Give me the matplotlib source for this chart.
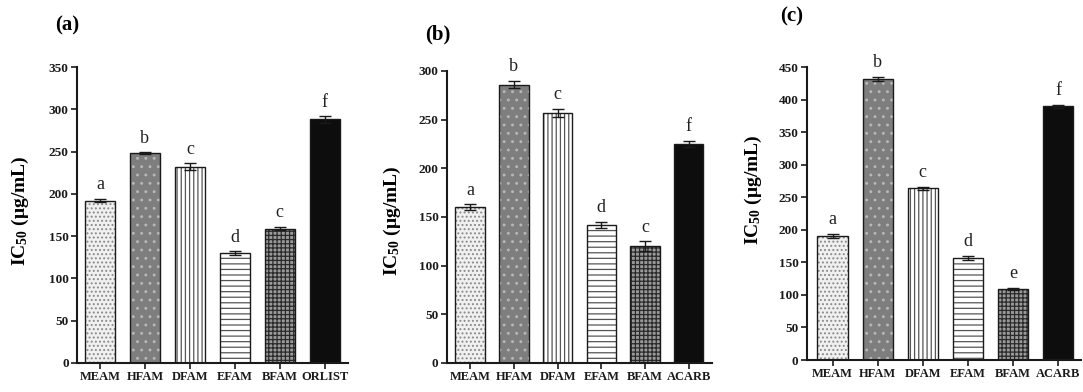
import numpy as np
import matplotlib
matplotlib.use("Agg")
import matplotlib.pyplot as plt

# ---- data ----
extracts = ["MEAM", "HFAM", "DFAM", "EFAM", "BFAM"]
labels_a = extracts + ["ORLIST"]
labels_b = extracts + ["ACARB"]
labels_c = extracts + ["ACARB"]

ic50_a = [192, 248, 232, 130, 159, 288]
err_a = [2, 1, 4, 2, 2, 4]
ic50_b = [160, 286, 257, 142, 120, 225]
err_b = [3, 4, 4, 3, 5, 3]
ic50_c = [191, 432, 264, 157, 109, 390]
err_c = [3, 3, 2, 3, 2, 2]

letters_a = ["a", "b", "c", "d", "c", "f"]
letters_b = ["a", "b", "c", "d", "c", "f"]
letters_c = ["a", "b", "c", "d", "e", "f"]

# face colour, hatch, hatch colour for each bar
styles = [
    ("#f0f0f0", "....", "#8a8a8a"),
    ("#7e7e7e", "..", "#b8b8b8"),
    ("#ffffff", "||||", "#555555"),
    ("#ffffff", "---", "#555555"),
    ("#9a9a9a", "++++", "#2a2a2a"),
    ("#0d0d0d", "", "#0d0d0d"),
]

plt.rcParams['font.family'] = ['Liberation Serif', 'DejaVu Serif']
plt.rcParams['hatch.linewidth'] = 0.9
plt.rcParams['mathtext.fontset'] = 'custom'
plt.rcParams['mathtext.rm'] = 'Liberation Serif:bold'
plt.rcParams['mathtext.bf'] = 'Liberation Serif:bold'

fig = plt.figure(figsize=(10.83, 3.92), dpi=100, facecolor='white')


def draw_panel(rect, labels, values, errs, letters, ymax, ystep, xlim):
    ax = fig.add_axes(rect)
    x = np.arange(len(labels))
    for i, (xi, v) in enumerate(zip(x, values)):
        face, hatch, hcol = styles[i]
        ax.bar(xi, v, width=0.67, color=face, edgecolor=hcol, hatch=hatch, linewidth=0, zorder=2)
        ax.bar(xi, v, width=0.67, fill=False, edgecolor='#1a1a1a', linewidth=1.0, zorder=3)
    ax.errorbar(x, values, yerr=errs, fmt='none', ecolor='#1a1a1a', elinewidth=1.0,
                capsize=4, capthick=1.0, zorder=4)
    for xi, v, e, lt in zip(x, values, errs, letters):
        ax.annotate(lt, xy=(xi, v + e), xytext=(0, 4), textcoords='offset points',
                    ha='center', va='bottom', fontsize=13, color='#222222')
    ax.set_ylim(0, ymax)
    ax.set_xlim(*xlim)
    ax.set_yticks(np.arange(0, ymax + 1, ystep))
    ax.set_xticks(x)
    ax.set_xticklabels(labels, fontsize=9, fontweight='bold')
    for t in ax.get_yticklabels():
        t.set_fontweight('bold')
        t.set_fontsize(9.5)
    ax.tick_params(axis='both', direction='out', length=4, width=1.2, pad=2, colors='#1a1a1a')
    for s in ['top', 'right']:
        ax.spines[s].set_visible(False)
    for s in ['left', 'bottom']:
        ax.spines[s].set_linewidth(1.5)
        ax.spines[s].set_color('#1a1a1a')
    ax.patch.set_alpha(0)
    return ax


ax1 = draw_panel([0.0711, 0.074, 0.25, 0.755], labels_a, ic50_a, err_a, letters_a, 350, 50, (-0.51, 5.51))
ax2 = draw_panel([0.4127, 0.074, 0.2447, 0.745], labels_b, ic50_b, err_b, letters_b, 300, 50, (-0.53, 5.53))
ax3 = draw_panel([0.745, 0.0816, 0.253, 0.747], labels_c, ic50_c, err_c, letters_c, 450, 50, (-0.57, 5.5))

# panel letters
fig.text(0.062, 0.934, "(a)", fontsize=15, fontweight='bold', ha='center', va='center')
fig.text(0.404, 0.913, "(b)", fontsize=15, fontweight='bold', ha='center', va='center')
fig.text(0.731, 0.957, "(c)", fontsize=15, fontweight='bold', ha='center', va='center')

# y labels
ylab = r"$\mathbf{IC_{50}}$ (μg/mL)"
fig.text(20 / 1083, 1 - 211 / 392, ylab, rotation=90, fontsize=14, fontweight='bold', ha='center', va='center')
fig.text(392 / 1083, 1 - 221 / 392, ylab, rotation=90, fontsize=14, fontweight='bold', ha='center', va='center')
fig.text(753 / 1083, 1 - 190 / 392, ylab, rotation=90, fontsize=14, fontweight='bold', ha='center', va='center')

plt.savefig("out.png", dpi=100)
plt.close()
